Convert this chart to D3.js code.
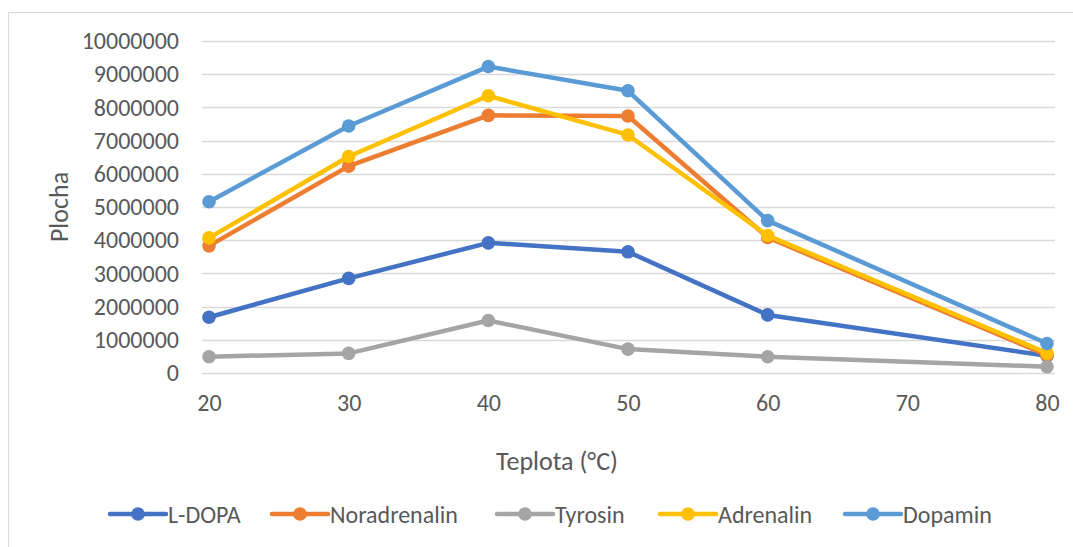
<!DOCTYPE html>
<html>
<head>
<meta charset="utf-8">
<script src="https://cdn.jsdelivr.net/npm/d3@7"></script>
<style>
  body { margin: 0; background: #fff; }
  text { font-family: Calibri, Carlito, "Liberation Sans", Arial, sans-serif; fill: #595959; }
</style>
</head>
<body>
<script>
// data
var temps = [20, 30, 40, 50, 60, 80];
var xTicks = [20, 30, 40, 50, 60, 70, 80];
var names = ["L-DOPA", "Noradrenalin", "Tyrosin", "Adrenalin", "Dopamin"];
var colors = ["#4472C4", "#ED7D31", "#A5A5A5", "#FFC000", "#5B9BD5"];
var lDopa = [1680000, 2850000, 3920000, 3650000, 1750000, 520000];
var noradrenalin = [3830000, 6230000, 7760000, 7740000, 4080000, 540000];
var tyrosin = [490000, 590000, 1580000, 720000, 490000, 190000];
var adrenalin = [4070000, 6520000, 8350000, 7170000, 4140000, 600000];
var dopamin = [5160000, 7440000, 9230000, 8500000, 4590000, 890000];
var seriesVals = [lDopa, noradrenalin, tyrosin, adrenalin, dopamin];

var w = 1073, h = 547;
var fontFam = "Calibri, Carlito, 'Liberation Sans', Arial, sans-serif";

var svg = d3.select("body").append("svg")
    .attr("width", w)
    .attr("height", h);

svg.append("rect")
    .attr("x", 8.5).attr("y", 12.5)
    .attr("width", 1100).attr("height", 600)
    .attr("fill", "#fff")
    .attr("stroke", "#D9D9D9");

var x = d3.scaleLinear().domain([20, 80]).range([209, 1047]);
var y = d3.scaleLinear().domain([0, 10000000]).range([373, 41]);

// gridlines
svg.append("g")
    .selectAll("line")
    .data(y.ticks(10))
    .enter()
    .append("line")
    .attr("x1", 202).attr("x2", 1055)
    .attr("y1", function(d) { return Math.round(y(d)) + 0.5; })
    .attr("y2", function(d) { return Math.round(y(d)) + 0.5; })
    .attr("stroke", "#D9D9D9")
    .attr("stroke-width", 1.3);

// y axis labels
var yAxis = d3.axisLeft(y).ticks(10).tickSize(0).tickPadding(0).tickFormat(d3.format("d"));
svg.append("g")
    .attr("transform", "translate(179,0)")
    .call(yAxis)
    .call(function(g) {
        g.select(".domain").remove();
        g.selectAll("text").style("font-size", "24px").attr("fill", "#595959")
            .style("font-family", fontFam);
    });

// x axis labels
var xAxis = d3.axisBottom(x).tickValues(xTicks).tickSize(0).tickPadding(0);
svg.append("g")
    .attr("transform", "translate(0,394)")
    .call(xAxis)
    .call(function(g) {
        g.select(".domain").remove();
        g.selectAll("text").style("font-size", "24px").attr("fill", "#595959")
            .style("font-family", fontFam);
    });

// axis titles
svg.append("text")
    .attr("transform", "translate(68,207) rotate(-90)")
    .attr("text-anchor", "middle")
    .style("font-size", "26px")
    .text("Plocha");

svg.append("text")
    .attr("x", 557).attr("y", 470)
    .attr("text-anchor", "middle")
    .style("font-size", "26px")
    .text("Teplota (°C)");

// series
var line = d3.line()
    .x(function(d, i) { return x(temps[i]); })
    .y(function(d) { return y(d); });

seriesVals.forEach(function(vals, k) {
    var g = svg.append("g");
    g.append("path")
        .attr("d", line(vals))
        .attr("fill", "none")
        .attr("stroke", colors[k])
        .attr("stroke-width", 4.5)
        .attr("stroke-linejoin", "round");
    g.selectAll("circle")
        .data(vals)
        .enter()
        .append("circle")
        .attr("cx", function(d, i) { return x(temps[i]); })
        .attr("cy", function(d) { return y(d); })
        .attr("r", 6.8)
        .attr("fill", colors[k]);
});

// legend
var legendX = [110, 272, 497, 660, 845];
var legend = svg.append("g").attr("transform", "translate(0,514)");
names.forEach(function(n, k) {
    var lg = legend.append("g").attr("transform", "translate(" + legendX[k] + ",0)");
    lg.append("line")
        .attr("x1", 0).attr("x2", 56)
        .attr("stroke", colors[k])
        .attr("stroke-width", 4.5)
        .attr("stroke-linecap", "round");
    lg.append("circle").attr("cx", 28).attr("r", 6.8).attr("fill", colors[k]);
    lg.append("text")
        .attr("x", 58).attr("y", 8.5)
        .style("font-size", "24px")
        .text(n);
});
</script>
</body>
</html>
